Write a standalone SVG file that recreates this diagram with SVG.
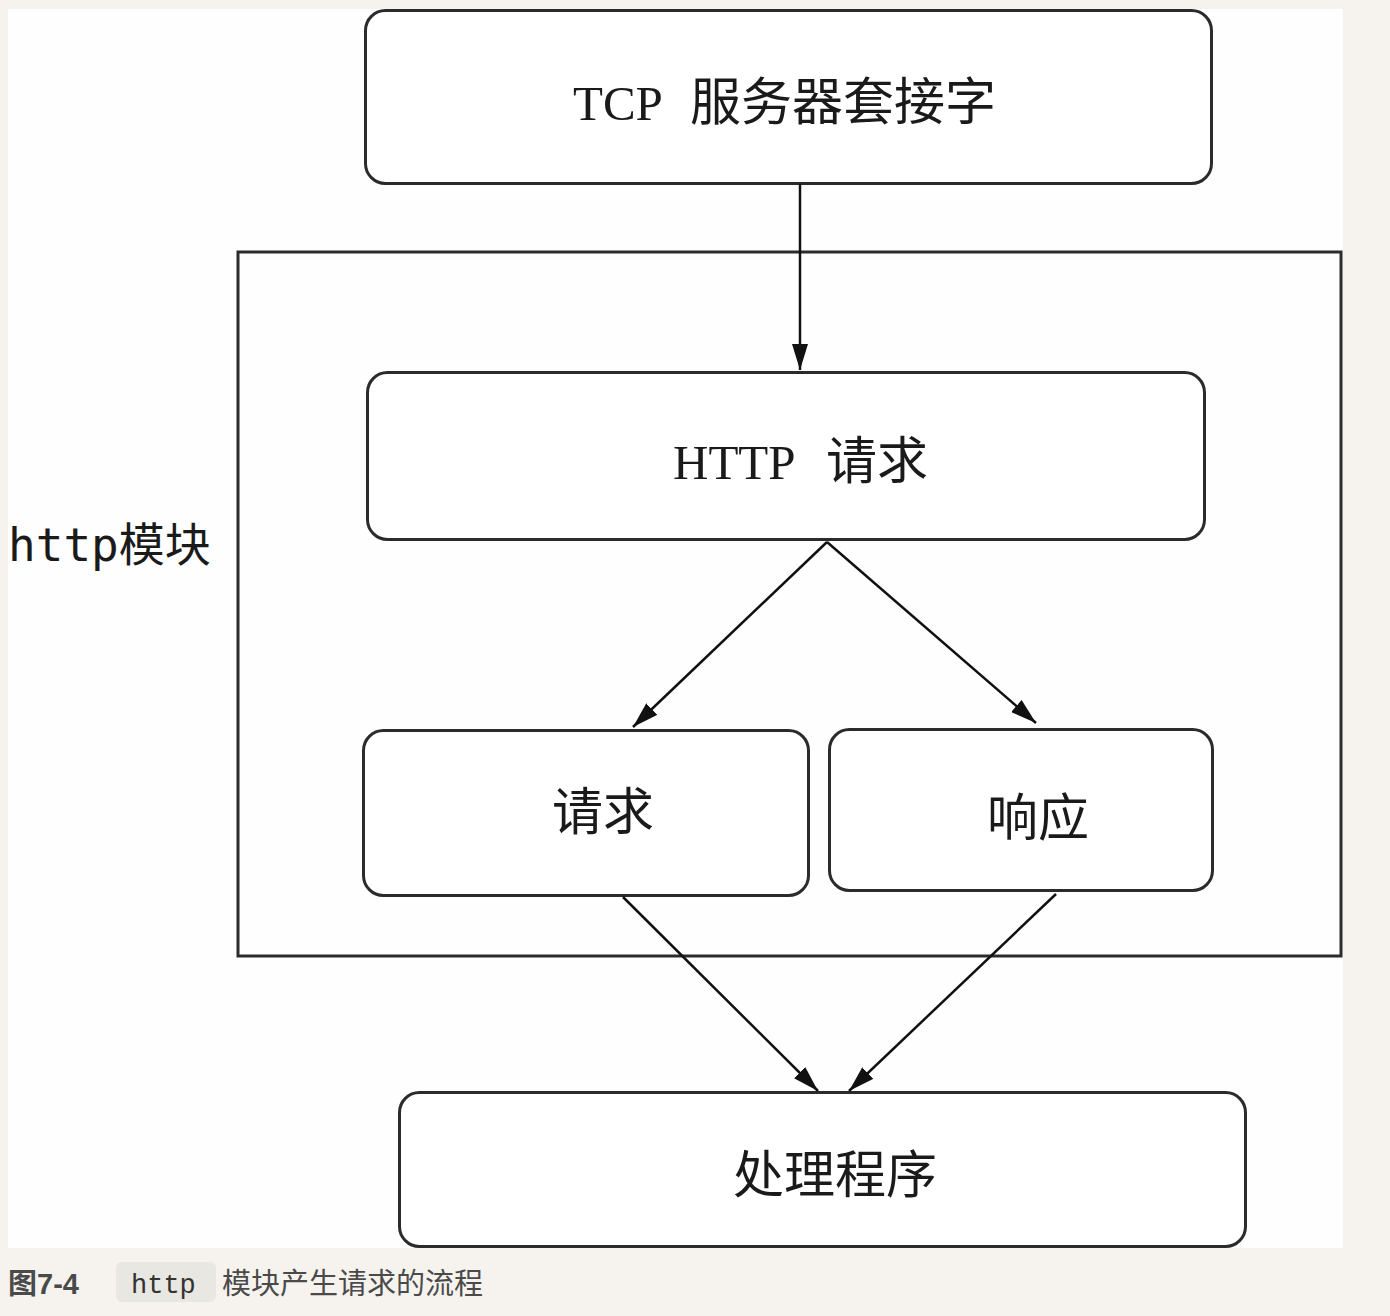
<svg xmlns="http://www.w3.org/2000/svg" width="1390" height="1316" viewBox="0 0 1390 1316">
  <style>
    .box { fill: #fff; stroke: #2b2b2b; stroke-width: 3; }
    .frame { fill: none; stroke: #2b2b2b; stroke-width: 3; }
    .lbl { font-family: "Liberation Serif", "Noto Sans CJK SC", serif; font-size: 51px; fill: #1a1a1a; }
    .mid { text-anchor: middle; }
    .lat { font-size: 49px; }
    .cap { font-family: "Liberation Sans", "Noto Sans CJK SC", sans-serif; font-size: 29px; fill: #4a4a4a; }
  </style>
  <defs>
    <marker id="arrowBig" viewBox="0 0 26 16" refX="26" refY="8" markerWidth="26" markerHeight="16" markerUnits="userSpaceOnUse" orient="auto">
      <path d="M0,0 L26,8 L0,16 z" fill="#111"/>
    </marker>
  </defs>

  <!-- page background and figure panel -->
  <rect x="0" y="0" width="1390" height="1316" fill="#f6f3ee"/>
  <rect x="8" y="9" width="1335" height="1239" fill="#fefefe"/>

  <!-- module frame -->
  <g id="http-module">
    <rect class="frame" x="238" y="252" width="1103" height="704"/>
    <text x="8" y="561" font-family="DejaVu Sans Mono, Noto Sans CJK SC, monospace" font-size="46" fill="#1a1a1a">http模块</text>
  </g>

  <g id="tcp-socket">
    <rect class="box" x="365.5" y="10.5" width="846" height="173" rx="20"/>
    <text class="lbl" y="120"><tspan class="lat" x="573">TCP</tspan><tspan x="690">服务器套接字</tspan></text>
  </g>

  <g id="http-request">
    <rect class="box" x="367.5" y="372.5" width="837" height="167" rx="20"/>
    <text class="lbl" y="479"><tspan class="lat" x="673">HTTP</tspan><tspan x="826">请求</tspan></text>
  </g>

  <g id="request">
    <rect class="box" x="363.5" y="730.5" width="445" height="165" rx="20"/>
    <text class="lbl mid" x="603" y="830">请求</text>
  </g>

  <g id="response">
    <rect class="box" x="829.5" y="729.5" width="383" height="161" rx="20"/>
    <text class="lbl mid" x="1038" y="836">响应</text>
  </g>

  <g id="handler">
    <rect class="box" x="399.5" y="1092.5" width="846" height="154" rx="20"/>
    <text class="lbl mid" x="835" y="1193">处理程序</text>
  </g>

  <!-- connectors -->
  <g id="connectors" stroke="#111" stroke-width="2.5" marker-end="url(#arrowBig)">
    <line x1="800" y1="184" x2="800" y2="370"/>
    <line x1="827" y1="542" x2="633" y2="727"/>
    <line x1="827" y1="542" x2="1036" y2="723"/>
    <line x1="623" y1="897" x2="818" y2="1091"/>
    <line x1="1056" y1="894" x2="849" y2="1091"/>
  </g>

  <!-- caption -->
  <g id="caption">
    <text class="cap" x="8" y="1294" font-weight="bold">图7-4</text>
    <rect x="116" y="1262" width="100" height="40" rx="6" fill="#e8e7e1"/>
    <text x="131" y="1293" font-family="Liberation Mono, monospace" font-size="27" fill="#333">http</text>
    <text class="cap" x="222" y="1294">模块产生请求的流程</text>
  </g>
</svg>
